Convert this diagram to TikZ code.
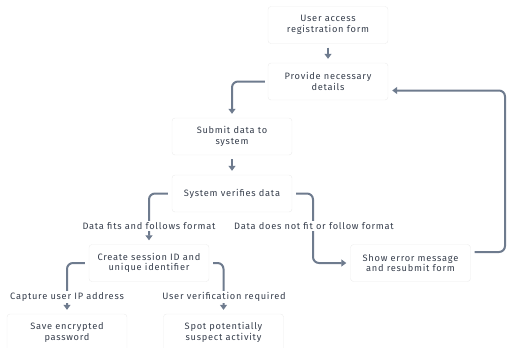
\documentclass[tikz,border=0pt]{standalone}
\usepackage{fontspec}
\setmainfont[LetterSpace=8]{Fira Sans}
\usetikzlibrary{arrows.meta}
\definecolor{linec}{HTML}{6E7B8E}
\definecolor{txt}{HTML}{363E4C}
\definecolor{boxb}{HTML}{EDEDED}
\begin{document}
\begin{tikzpicture}[x=1bp,y=-1bp,
  box/.style={draw=boxb, fill=white, rounded corners=3bp, minimum width=120bp, minimum height=37bp, align=center, font=\fontsize{9.3}{10.5}\selectfont, text=txt, inner sep=0pt},
  conn/.style={draw=linec, line width=2bp, rounded corners=6bp, shorten >=4bp, -{Triangle[length=5bp,width=7bp]}},
  lbl/.style={font=\fontsize{9.3}{10.5}\selectfont, text=txt, fill=white, inner sep=1.5bp}]
\useasboundingbox (0,0) rectangle (507,347);
\node[box] (b1) at (328,25) {User access\\registration form};
\node[box] (b2) at (328,81.5) {Provide necessary\\details};
\node[box] (b3) at (232,136.5) {Submit data to\\system};
\node[box] (b4) at (232,193.5) {System verifies data};
\node[box] (b5) at (149,263) {Create session ID and\\unique identifier};
\node[box] (b6) at (410.5,263) {Show error message\\and resubmit form};
\node[box] (b7) at (67,332.5) {Save encrypted\\password};
\node[box] (b8) at (223.5,332.5) {Spot potentially\\suspect activity};

\coordinate (c1) at ([xshift=-3bp]b2.west);
\coordinate (c2) at ([xshift=-4bp]b4.west);
\coordinate (c3) at ([xshift=4bp]b4.east);
\coordinate (c4) at ([xshift=-4bp]b5.west);
\coordinate (c5) at ([xshift=4bp]b5.east);
\coordinate (c6) at ([xshift=4bp,yshift=11bp]b6.east);
\coordinate (c7) at ([yshift=-9bp]b2.east);
\coordinate (r1) at (505,252);
\coordinate (r2) at (505,90.5);

\draw[conn, shorten <=4bp] (b1.south) -- (b2.north);
\draw[conn] (c1) -| (b3.north);
\draw[conn, shorten <=4bp] (b3.south) -- (b4.north);
\draw[conn] (c2) -| (b5.north);
\draw[conn] (c3) -| (313,226) |- (b6.west);
\draw[conn] (c6) -- (r1) -- (r2) -- (c7);
\draw[conn] (c4) -| (b7.north);
\draw[conn] (c5) -| (b8.north);

\node[lbl] (l1) at (149,226) {Data fits and follows format};
\node[lbl] (l2) at (314,226) {Data does not fit or follow format};
\node[lbl] (l3) at (67,297) {Capture user IP address};
\node[lbl] (l4) at (224,297) {User verification required};
\end{tikzpicture}
\end{document}
